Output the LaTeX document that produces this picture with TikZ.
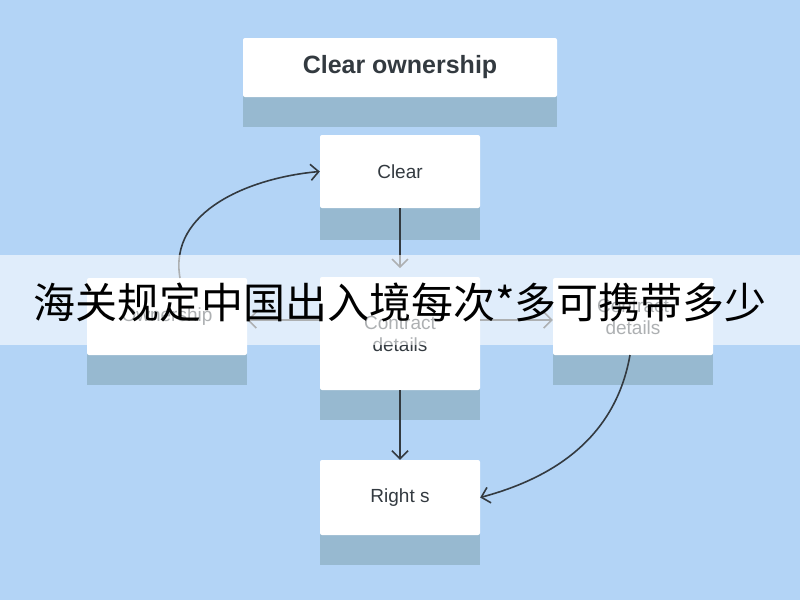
\documentclass[tikz,border=0pt]{standalone}
\usepackage{fontspec}
\setmainfont{Liberation Sans}
\newfontfamily\cjk{Noto Sans CJK SC}
\usetikzlibrary{arrows.meta}
\definecolor{bgblue}{HTML}{B3D4F6}
\definecolor{shadowblue}{HTML}{97B9D0}
\definecolor{inkgray}{HTML}{333A40}

\tikzset{
	box/.style={fill=white, rounded corners=2pt, inner sep=0pt, align=center, text=inkgray, font=\fontsize{19}{22}\selectfont},
	link/.style={-{Straight Barb[length=8pt,width=16pt]}, line width=1.6pt, draw=inkgray},
}

\begin{document}
\begin{tikzpicture}[x=1pt,y=-1pt]
	\useasboundingbox (0,0) rectangle (800,600);
	\fill[bgblue] (0,0) rectangle (800,600);
	
	%shadows
	\fill[shadowblue] (243,90) rectangle (557,127);
	\fill[shadowblue] (320,200) rectangle (480,240);
	\fill[shadowblue] (87,345) rectangle (247,385);
	\fill[shadowblue] (553,345) rectangle (713,385);
	\fill[shadowblue] (320,380) rectangle (480,420);
	\fill[shadowblue] (320,525) rectangle (480,565);
	
	%boxes
	\node[box, minimum width=314pt, minimum height=59pt, font=\bfseries\fontsize{25}{28}\selectfont] (title) at (400,67.5) {Clear ownership};
	\node[box, minimum width=160pt, minimum height=73pt] (clear) at (400,171.5) {Clear};
	\node[box, minimum width=160pt, minimum height=77pt] (owner) at (167,316.5) {Ownership};
	\node[box, minimum width=160pt, minimum height=113pt] (contract) at (400,333.5) {Contract\\details};
	\node[box, minimum width=160pt, minimum height=77pt] (rcontract) at (633,316.5) {Contract\\details};
	\node[box, minimum width=160pt, minimum height=75pt] (rights) at (400,497.5) {Right s};
	
	%connectors
	\draw[link] (clear.south) -- ++(0,60);
	\draw[link] (contract.south) -- (rights.north);
	\draw[link] (contract.west |- 0,320) -- (owner.east |- 0,320);
	\draw[link] (contract.east |- 0,320) -- (rcontract.west |- 0,320);
	\draw[link] (180,278) to[out=100,in=185] (clear.west);
	\draw[link] (630,355) to[out=-100,in=15] (rights.east);
	
	%banner
	\fill[white, opacity=0.6] (0,255) rectangle (800,345);
	\node[font=\cjk\fontsize{42}{46}\selectfont, text=black] (banner) at (400,302) {海关规定中国出入境每次*多可携带多少};
\end{tikzpicture}
\end{document}
